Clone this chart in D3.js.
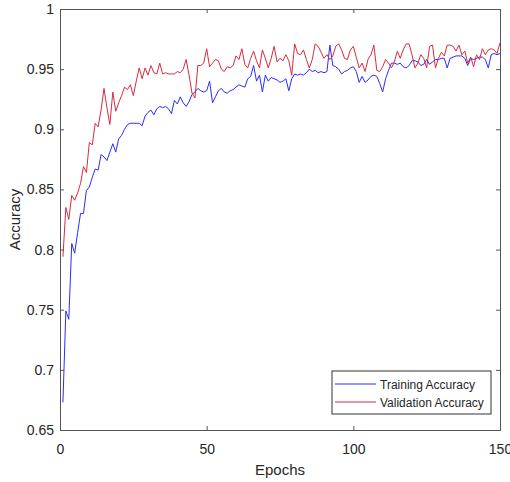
<!DOCTYPE html>
<html>
<head>
<meta charset="utf-8">
<script src="https://cdn.jsdelivr.net/npm/d3@7"></script>
<style>
  body { margin: 0; background: #fff; }
  text { font-family: "Liberation Sans", Arial, sans-serif; fill: #262626; }
</style>
</head>
<body>
<div id="chart"></div>
<script>
// epochs 1..150
const trainAcc = [
  0.673, 0.749, 0.742, 0.805, 0.797, 0.814, 0.830, 0.830, 0.849, 0.852,
  0.860, 0.867, 0.866, 0.879, 0.877, 0.874, 0.881, 0.888, 0.881, 0.892,
  0.895, 0.900, 0.904, 0.905, 0.905, 0.905, 0.905, 0.903, 0.911, 0.914,
  0.916, 0.912, 0.917, 0.919, 0.918, 0.919, 0.917, 0.913, 0.924, 0.921,
  0.927, 0.922, 0.919, 0.923, 0.929, 0.931, 0.934, 0.932, 0.931, 0.932,
  0.940, 0.922, 0.927, 0.932, 0.934, 0.931, 0.930, 0.932, 0.933, 0.935,
  0.937, 0.936, 0.935, 0.942, 0.944, 0.953, 0.940, 0.945, 0.931, 0.945,
  0.940, 0.943, 0.942, 0.941, 0.939, 0.940, 0.942, 0.932, 0.942, 0.946,
  0.945, 0.946, 0.945, 0.947, 0.950, 0.948, 0.949, 0.947, 0.948, 0.947,
  0.948, 0.970, 0.953, 0.952, 0.950, 0.946, 0.948, 0.949, 0.951, 0.952,
  0.948, 0.939, 0.944, 0.939, 0.941, 0.944, 0.945, 0.944, 0.938, 0.931,
  0.942, 0.949, 0.955, 0.955, 0.954, 0.955, 0.952, 0.951, 0.953, 0.957,
  0.957, 0.956, 0.953, 0.954, 0.958, 0.954, 0.956, 0.958, 0.958, 0.959,
  0.959, 0.951, 0.959, 0.960, 0.961, 0.961, 0.961, 0.959, 0.953, 0.959,
  0.958, 0.959, 0.960, 0.960, 0.958, 0.951, 0.962, 0.963, 0.962, 0.963
]
const valAcc = [
  0.794, 0.835, 0.825, 0.845, 0.841, 0.847, 0.855, 0.869, 0.864, 0.889,
  0.887, 0.905, 0.902, 0.916, 0.934, 0.918, 0.904, 0.931, 0.915, 0.922,
  0.928, 0.935, 0.933, 0.937, 0.928, 0.940, 0.951, 0.942, 0.951, 0.945,
  0.953, 0.947, 0.946, 0.955, 0.946, 0.947, 0.946, 0.946, 0.946, 0.948,
  0.947, 0.950, 0.958, 0.945, 0.930, 0.926, 0.953, 0.953, 0.955, 0.967,
  0.952, 0.955, 0.958, 0.957, 0.950, 0.948, 0.952, 0.951, 0.953, 0.961,
  0.958, 0.967, 0.954, 0.951, 0.959, 0.965, 0.957, 0.951, 0.966, 0.959,
  0.951, 0.959, 0.969, 0.956, 0.959, 0.957, 0.962, 0.957, 0.945, 0.971,
  0.963, 0.962, 0.966, 0.958, 0.951, 0.958, 0.971, 0.969, 0.964, 0.959,
  0.962, 0.958, 0.961, 0.969, 0.971, 0.966, 0.959, 0.958, 0.966, 0.969,
  0.960, 0.951, 0.955, 0.948, 0.958, 0.962, 0.970, 0.949, 0.948, 0.952,
  0.958, 0.955, 0.951, 0.956, 0.965, 0.959, 0.966, 0.971, 0.971, 0.962,
  0.951, 0.955, 0.962, 0.959, 0.951, 0.969, 0.970, 0.951, 0.959, 0.964,
  0.961, 0.970, 0.970, 0.969, 0.965, 0.970, 0.962, 0.965, 0.955, 0.960,
  0.952, 0.962, 0.958, 0.967, 0.962, 0.966, 0.967, 0.966, 0.963, 0.972
]
const xTicks = [0, 50, 100, 150]
const yTicks = [0.65, 0.7, 0.75, 0.8, 0.85, 0.9, 0.95, 1]
const seriesNames = ["Training Accuracy", "Validation Accuracy"]
const seriesColors = ["#2b2bff", "#d92a3e"]

const width = 510, height = 482
const margin = {left: 60, right: 10, top: 9, bottom: 52}

const svg = d3.select("#chart").append("svg")
    .attr("width", width)
    .attr("height", height)

let x = d3.scaleLinear().domain([0, 150]).range([margin.left, width - margin.right])
let y = d3.scaleLinear().domain([0.65, 1]).range([height - margin.bottom, margin.top])

// axes, matlab style: ticks inward, box on
svg.append("g")
    .attr("transform", "translate(0," + (height - margin.bottom) + ")")
    .call(d3.axisBottom(x).tickValues(xTicks).tickSize(-4).tickPadding(14).tickFormat(d3.format("d")))
svg.append("g")
    .attr("transform", "translate(" + margin.left + ",0)")
    .call(d3.axisLeft(y).tickValues(yTicks).tickSize(-4).tickPadding(6).tickFormat(d => String(d)))
svg.append("g")
    .attr("transform", "translate(0," + margin.top + ")")
    .call(d3.axisTop(x).tickValues(xTicks).tickSize(-4).tickFormat(""))
svg.append("g")
    .attr("transform", "translate(" + (width - margin.right) + ",0)")
    .call(d3.axisRight(y).tickValues(yTicks).tickSize(-4).tickFormat(""))

svg.selectAll(".domain").attr("stroke", "#555").attr("stroke-width", 1)
svg.selectAll(".tick line").attr("stroke", "#555")
svg.selectAll(".tick text").style("font-size", "14px").attr("fill", "#262626")
    .style("font-family", "'Liberation Sans', Arial, sans-serif")

let line = d3.line()
    .x((d, i) => x(i + 1))
    .y(d => y(d))

svg.append("path").datum(trainAcc)
    .attr("d", line).attr("fill", "none")
    .attr("stroke", seriesColors[0]).attr("stroke-width", 1)
svg.append("path").datum(valAcc)
    .attr("d", line).attr("fill", "none")
    .attr("stroke", seriesColors[1]).attr("stroke-width", 1)

// labels
svg.append("text")
    .attr("x", x(75)).attr("y", 475)
    .attr("text-anchor", "middle")
    .style("font-size", "15px")
    .text("Epochs")
svg.append("text")
    .attr("transform", "translate(20," + y(0.825) + ") rotate(-90)")
    .attr("text-anchor", "middle")
    .style("font-size", "15px")
    .text("Accuracy")

// legend
let lg = svg.append("g").attr("transform", "translate(332,371)")
lg.append("rect")
    .attr("width", 159).attr("height", 43)
    .attr("fill", "#fff").attr("stroke", "#333").attr("stroke-width", 1)
seriesNames.forEach(function (name, i) {
    let yy = 13 + i * 18
    lg.append("line")
        .attr("x1", 3).attr("x2", 44).attr("y1", yy).attr("y2", yy)
        .attr("stroke", seriesColors[i]).attr("stroke-width", 1)
    lg.append("text")
        .attr("x", 48).attr("y", yy + 4.5)
        .style("font-size", "12px")
        .text(name)
})
</script>
</body>
</html>
